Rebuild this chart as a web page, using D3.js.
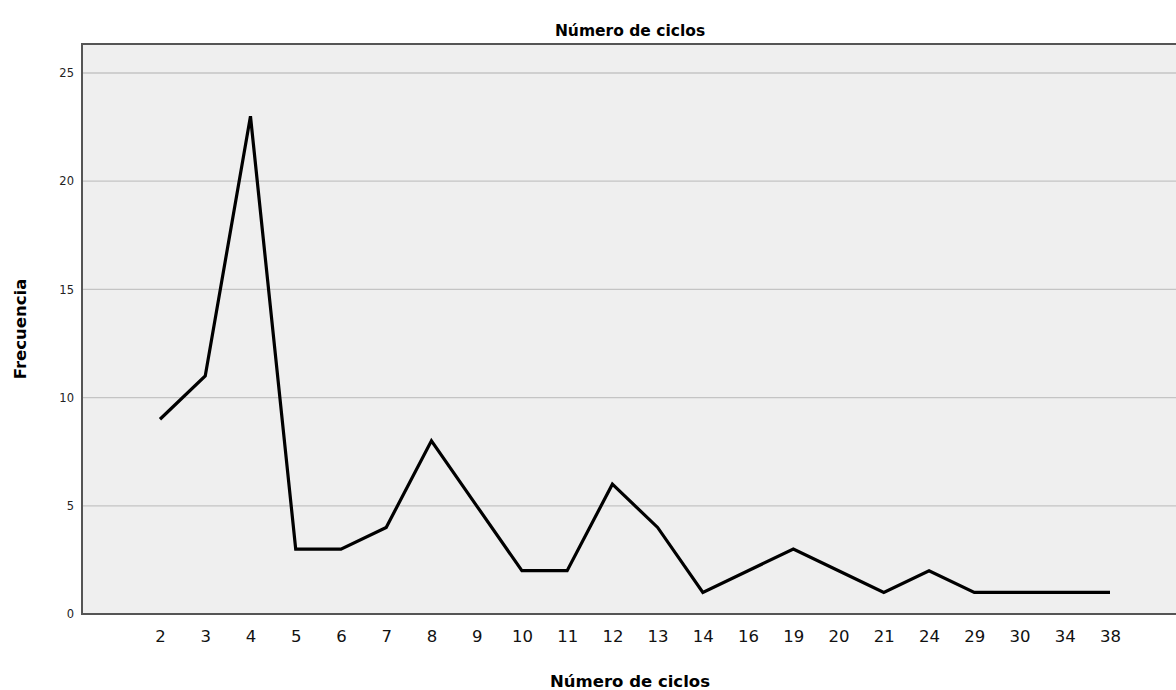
<!DOCTYPE html>
<html><head><meta charset="utf-8">
<script src="https://cdn.jsdelivr.net/npm/d3@7"></script>
<style>body{margin:0;background:#fff}svg{display:block}</style>
</head><body>
<svg id="c" width="1176" height="690"></svg>
<script>
const categories = ["2","3","4","5","6","7","8","9","10","11","12","13","14","16","19","20","21","24","29","30","34","38"];
const frequencies = [9,11,23,3,3,4,8,5,2,2,6,4,1,2,3,2,1,2,1,1,1,1];
const yTicks = [0,5,10,15,20,25];
const titleText = "Número de ciclos";
const xTitle = "Número de ciclos";
const yTitle = "Frecuencia";

const svg = d3.select("#c");
const L = 82, R = 1176, T = 44, B = 614;
const font = "'DejaVu Sans', 'Open Sans', sans-serif";

const x = d3.scalePoint().domain(categories).range([160, 1110]);
const y = d3.scaleLinear().domain([0, 25]).range([B, 73]);

svg.append("rect").attr("x", L).attr("y", T).attr("width", R - L).attr("height", B - T).attr("fill", "#efefef");

// grid
svg.append("g").selectAll("line").data(yTicks.filter(d => d > 0)).join("line")
  .attr("x1", L).attr("x2", R).attr("y1", d => y(d)).attr("y2", d => y(d))
  .attr("stroke", "#c4c4c4").attr("stroke-width", 1.3);

// y axis labels
const ya = svg.append("g").attr("transform", `translate(${L},0)`)
  .call(d3.axisLeft(y).tickValues(yTicks).tickSize(0).tickPadding(8));
ya.select(".domain").remove();
ya.selectAll("text").attr("font-size", 11.5).attr("font-family", font).attr("fill", "#222");

// x axis labels
const xa = svg.append("g").attr("transform", `translate(0,${B})`)
  .call(d3.axisBottom(x).tickSize(0).tickPadding(16));
xa.select(".domain").remove();
xa.selectAll("text").attr("font-size", 16.5).attr("font-family", font).attr("fill", "#111");

// frame
svg.append("path").attr("d", `M${R},${T}H${L}V${B}H${R}`)
  .attr("fill", "none").attr("stroke", "#555").attr("stroke-width", 2);

// line
svg.append("path").datum(frequencies)
  .attr("d", d3.line().x((d, i) => x(categories[i])).y(d => y(d)))
  .attr("fill", "none").attr("stroke", "#000").attr("stroke-width", 3.2).attr("stroke-linejoin", "miter");

// titles
svg.append("text").attr("x", 630).attr("y", 36).attr("text-anchor", "middle")
  .attr("font-family", font).attr("font-weight", "bold").attr("font-size", 15.5).text(titleText);
svg.append("text").attr("x", 630).attr("y", 687).attr("text-anchor", "middle")
  .attr("font-family", font).attr("font-weight", "bold").attr("font-size", 16.5).text(xTitle);
svg.append("text").attr("transform", `translate(26,${(T + B) / 2}) rotate(-90)`).attr("text-anchor", "middle")
  .attr("font-family", font).attr("font-weight", "bold").attr("font-size", 16.5).text(yTitle);
</script>
</body></html>
